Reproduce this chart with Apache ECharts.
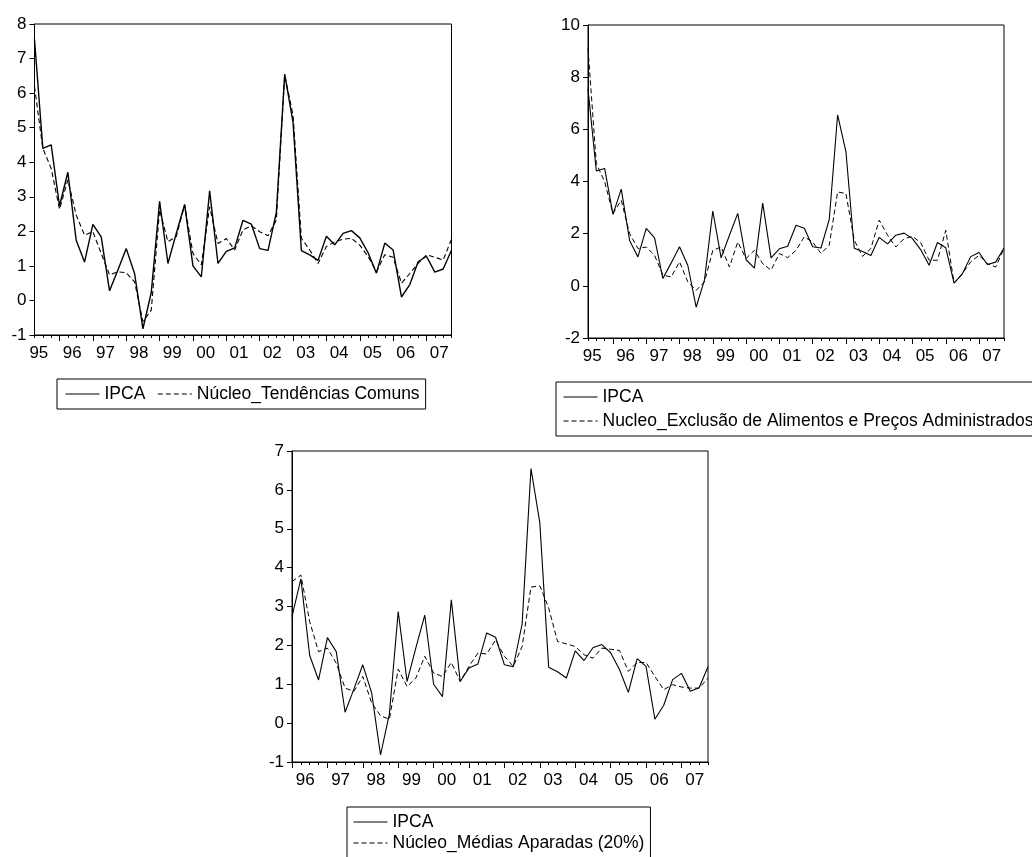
<!DOCTYPE html>
<html lang="pt-BR">
<head>
<meta charset="utf-8">
<title>IPCA e núcleos de inflação</title>
<script src="https://cdn.jsdelivr.net/npm/echarts@6/dist/echarts.min.js"></script>
<style>
    html, body { margin: 0; padding: 0; background: #fff; }
    #ipca_nucleos { width: 1032px; height: 857px; }
</style>
</head>
<body>
<div id="ipca_nucleos"></div>
<script>

// Data
// ------------------------------

// Quarters, 1995Q2 - 2007Q4
var quarters = [
    '1995Q2','1995Q3','1995Q4',
    '1996Q1','1996Q2','1996Q3','1996Q4',
    '1997Q1','1997Q2','1997Q3','1997Q4',
    '1998Q1','1998Q2','1998Q3','1998Q4',
    '1999Q1','1999Q2','1999Q3','1999Q4',
    '2000Q1','2000Q2','2000Q3','2000Q4',
    '2001Q1','2001Q2','2001Q3','2001Q4',
    '2002Q1','2002Q2','2002Q3','2002Q4',
    '2003Q1','2003Q2','2003Q3','2003Q4',
    '2004Q1','2004Q2','2004Q3','2004Q4',
    '2005Q1','2005Q2','2005Q3','2005Q4',
    '2006Q1','2006Q2','2006Q3','2006Q4',
    '2007Q1','2007Q2','2007Q3','2007Q4'
];

var ipca = [
    7.55, 4.40, 4.50,
    2.74, 3.71, 1.74, 1.11,
    2.20, 1.84, 0.28, 0.88,
    1.50, 0.78, -0.82, 0.23,
    2.87, 1.07, 1.94, 2.78,
    1.00, 0.68, 3.17, 1.07,
    1.42, 1.52, 2.32, 2.21,
    1.50, 1.45, 2.55, 6.55,
    5.15, 1.44, 1.32, 1.16,
    1.86, 1.61, 1.94, 2.02,
    1.81, 1.38, 0.79, 1.66,
    1.46, 0.10, 0.46, 1.12,
    1.28, 0.82, 0.91, 1.45
];

var nucleoTendencias = [
    6.19, 4.40, 3.82,
    2.64, 3.49, 2.47, 1.89,
    1.99, 1.36, 0.74, 0.83,
    0.80, 0.54, -0.61, -0.28,
    2.62, 1.70, 1.85, 2.76,
    1.36, 1.03, 2.71, 1.65,
    1.79, 1.46, 2.04, 2.16,
    1.99, 1.87, 2.33, 6.52,
    5.37, 1.80, 1.46, 1.07,
    1.56, 1.70, 1.77, 1.80,
    1.60, 1.27, 0.83, 1.32,
    1.25, 0.50, 0.78, 1.07,
    1.32, 1.25, 1.17, 1.77
];

var nucleoExclusao = [
    9.10, 4.69, 3.99,
    2.77, 3.28, 2.00, 1.43,
    1.49, 1.17, 0.41, 0.34,
    0.92, 0.15, -0.17, 0.15,
    1.36, 1.49, 0.72, 1.68,
    1.05, 1.36, 0.85, 0.60,
    1.24, 1.08, 1.36, 1.88,
    1.68, 1.24, 1.56, 3.60,
    3.54, 1.75, 1.13, 1.43,
    2.52, 1.94, 1.49, 1.81,
    1.90, 1.65, 0.98, 0.98,
    2.13, 0.11, 0.47, 0.92,
    1.17, 0.85, 0.72, 1.43
];

// Trimmed means series starts in 1996Q1
var nucleoMedias = [
    3.64, 3.81, 2.61, 1.84,
    1.93, 1.54, 0.90, 0.82,
    1.20, 0.52, 0.19, 0.10,
    1.39, 0.94, 1.16, 1.72,
    1.29, 1.20, 1.56, 1.07,
    1.46, 1.80, 1.78, 2.14,
    1.72, 1.46, 1.97, 3.50,
    3.53, 2.96, 2.10, 2.04,
    1.97, 1.76, 1.67, 1.93,
    1.90, 1.87, 1.33, 1.56,
    1.56, 1.20, 0.86, 0.99,
    0.93, 0.90, 0.90, 1.16
];

var quartersMedias = quarters.slice(3);
var ipcaMedias = ipca.slice(3);

var legendNames = {
    ipca: 'IPCA',
    tendencias: 'Núcleo_Tendências Comuns',
    exclusao: 'Nucleo_Exclusão de Alimentos e Preços Administrados',
    medias: 'Núcleo_Médias Aparadas (20%)'
};


// Setup module
// ------------------------------

var EchartsIpcaNucleos = function() {

    var _ipcaNucleosChart = function() {
        if (typeof echarts == 'undefined') {
            console.warn('Warning - echarts.min.js is not loaded.');
            return;
        }

        // Define element
        var ipca_element = document.getElementById('ipca_nucleos');
        if (!ipca_element) {
            return;
        }

        // Initialize chart
        var ipca_chart = echarts.init(ipca_element);

        // Shared styles
        var fontFamily = 'Arial, "Liberation Sans", sans-serif';
        var textStyle = { color: '#000', fontFamily: fontFamily, fontSize: 17.5 };
        var black = { color: '#000', width: 1 };

        // Two x axes per panel: quarter ticks + year ticks with labels
        var makeXAxes = function(gridIndex, cats, shift) {
            return [
                {
                    type: 'category',
                    gridIndex: gridIndex,
                    position: 'bottom',
                    data: cats,
                    boundaryGap: false,
                    axisLine: { show: true, onZero: false, lineStyle: black },
                    axisTick: { show: true, interval: 0, length: 3, lineStyle: black },
                    axisLabel: { show: false },
                    splitLine: { show: false }
                },
                {
                    type: 'category',
                    gridIndex: gridIndex,
                    position: 'bottom',
                    data: cats,
                    boundaryGap: false,
                    axisLine: { show: false, onZero: false },
                    axisTick: {
                        show: true,
                        length: 6,
                        lineStyle: black,
                        interval: function(index, value) { return value.slice(-2) === 'Q1'; }
                    },
                    axisLabel: {
                        show: true,
                        margin: 10,
                        color: '#000',
                        fontFamily: fontFamily,
                        fontSize: 17,
                        padding: [0, shift, 0, 0],
                        interval: function(index, value) { return value.slice(-2) === 'Q3'; },
                        formatter: function(value) { return value.slice(2, 4); }
                    },
                    splitLine: { show: false }
                }
            ];
        };

        var makeYAxis = function(gridIndex, min, max, interval) {
            return {
                type: 'value',
                gridIndex: gridIndex,
                min: min,
                max: max,
                interval: interval,
                axisLine: { show: true, lineStyle: black },
                axisTick: { show: true, length: 5, lineStyle: black },
                axisLabel: {
                    margin: 8,
                    color: '#000',
                    fontFamily: fontFamily,
                    fontSize: 17
                },
                splitLine: { show: false }
            };
        };

        var makeLine = function(name, xIndex, yIndex, data, dashed, width) {
            return {
                name: name,
                type: 'line',
                xAxisIndex: xIndex,
                yAxisIndex: yIndex,
                data: data,
                symbol: 'none',
                itemStyle: { color: '#000' },
                lineStyle: {
                    color: '#000',
                    width: width,
                    type: dashed ? [5, 3] : 'solid'
                }
            };
        };

        var gridBox = { show: true, borderColor: '#000', borderWidth: 1, backgroundColor: 'transparent' };

        // Legend: line sample only, no symbol dot
        var legendBase = {
            itemWidth: 34,
            itemHeight: 14,
            borderColor: '#000',
            borderWidth: 1,
            borderRadius: 0,
            selectedMode: false,
            itemStyle: { opacity: 0, color: 'rgba(0,0,0,0)', borderWidth: 0 },
            lineStyle: { width: 1 },
            textStyle: textStyle
        };

        // Options
        ipca_chart.setOption({
            animation: false,
            backgroundColor: '#fff',
            textStyle: textStyle,

            grid: [
                Object.assign({ left: 34.5, top: 24, width: 417, height: 311 }, gridBox),
                Object.assign({ left: 588, top: 25, width: 416, height: 313 }, gridBox),
                Object.assign({ left: 292, top: 451, width: 416, height: 311 }, gridBox)
            ],

            xAxis: [].concat(
                makeXAxes(0, quarters, 8),
                makeXAxes(1, quarters, 8),
                makeXAxes(2, quartersMedias, 9)
            ),

            yAxis: [
                makeYAxis(0, -1, 8, 1),
                makeYAxis(1, -2, 10, 2),
                makeYAxis(2, -1, 7, 1)
            ],

            legend: [
                Object.assign({
                    data: [legendNames.ipca, legendNames.tendencias],
                    orient: 'horizontal',
                    left: 57,
                    top: 379,
                    itemGap: 12,
                    padding: [6, 6, 6, 8]
                }, legendBase),
                Object.assign({
                    data: [legendNames.ipca, legendNames.exclusao],
                    orient: 'vertical',
                    left: 556,
                    top: 382,
                    itemGap: 6,
                    padding: [6, 6, 6, 7]
                }, legendBase),
                Object.assign({
                    data: [legendNames.ipca, legendNames.medias],
                    orient: 'vertical',
                    left: 347,
                    top: 807,
                    height: 90,
                    itemGap: 3,
                    padding: [6, 6, 6, 6]
                }, legendBase)
            ],

            series: [
                makeLine(legendNames.ipca, 0, 0, ipca, false, 1.4),
                makeLine(legendNames.tendencias, 0, 0, nucleoTendencias, true, 1.1),
                makeLine(legendNames.ipca, 2, 1, ipca, false, 1.1),
                makeLine(legendNames.exclusao, 2, 1, nucleoExclusao, true, 1),
                makeLine(legendNames.ipca, 4, 2, ipcaMedias, false, 1.1),
                makeLine(legendNames.medias, 4, 2, nucleoMedias, true, 1)
            ]
        });

        // Resize
        window.addEventListener('resize', function() {
            ipca_chart.resize();
        });
    };

    return {
        init: function() {
            _ipcaNucleosChart();
        }
    };
}();


// Initialize module
// ------------------------------

document.addEventListener('DOMContentLoaded', function() {
    EchartsIpcaNucleos.init();
});
</script>
</body>
</html>
